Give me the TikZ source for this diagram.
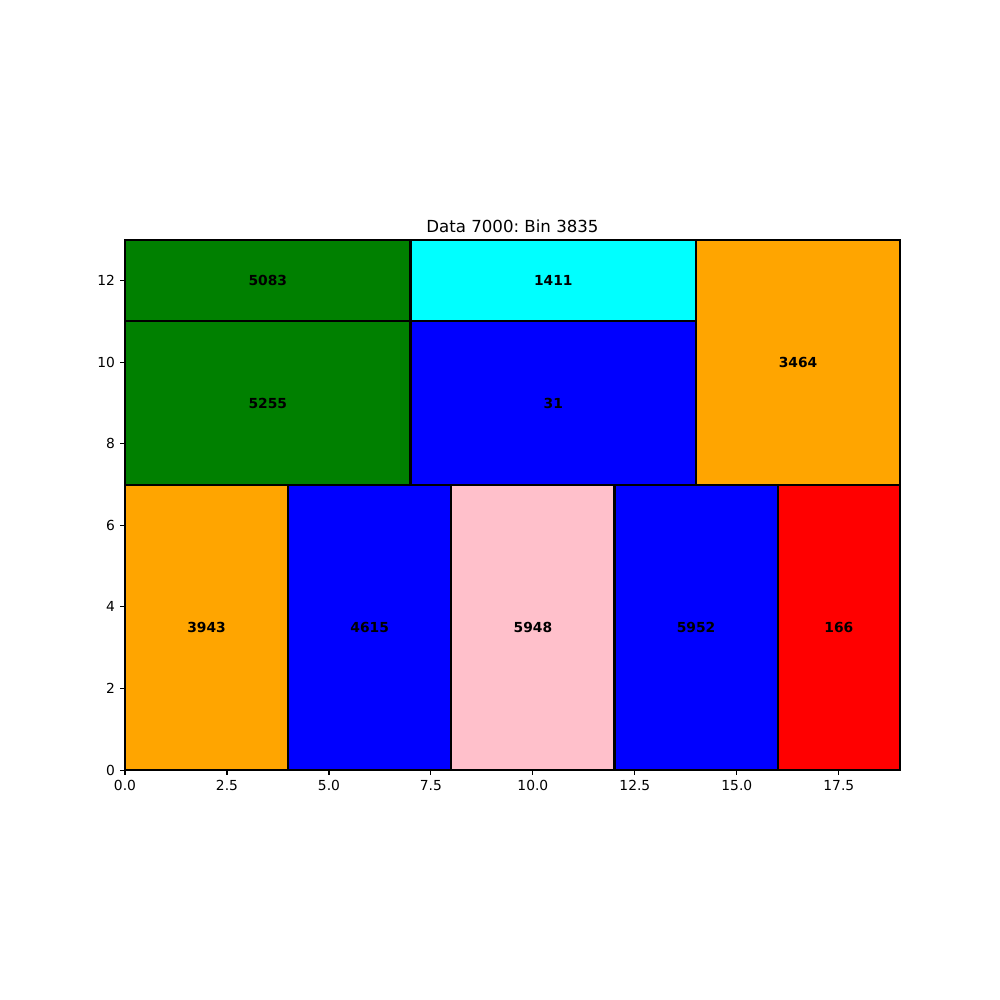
\documentclass[tikz,border=0pt]{standalone}
\usepackage{fontspec}
\setmainfont{DejaVu Sans}
\definecolor{mplorange}{HTML}{FFA500}
\definecolor{mplblue}{HTML}{0000FF}
\definecolor{mplpink}{HTML}{FFC0CB}
\definecolor{mplred}{HTML}{FF0000}
\definecolor{mplgreen}{HTML}{008000}
\definecolor{mplcyan}{HTML}{00FFFF}
\frenchspacing
\begin{document}
\begin{tikzpicture}[
  item/.style={draw=black, line width=1.5pt},
  lbl/.style={font=\fontsize{10}{12}\selectfont\bfseries, inner sep=0pt},
  tick/.style={line width=0.8pt},
  ticklbl/.style={font=\fontsize{10}{12}\selectfont, inner sep=0pt}
]
\useasboundingbox (0,0) rectangle (25.4cm,25.4cm);
\begin{scope}[shift={(3.175cm,5.840cm)}, x=1.03605cm, y=1.03605cm]
  \fill[white] (0,0) rectangle (19,13);
  \draw[item, fill=mplorange] (0,0) rectangle (4,7) node[midway, lbl] (n3943) {3943};
  \draw[item, fill=mplblue] (4,0) rectangle (8,7) node[midway, lbl] (n4615) {4615};
  \draw[item, fill=mplpink] (8,0) rectangle (12,7) node[midway, lbl] (n5948) {5948};
  \draw[item, fill=mplblue] (12,0) rectangle (16,7) node[midway, lbl] (n5952) {5952};
  \draw[item, fill=mplred] (16,0) rectangle (19,7) node[midway, lbl] (n166) {166};
  \draw[item, fill=mplgreen] (0,7) rectangle (7,11) node[midway, lbl] (n5255) {5255};
  \draw[item, fill=mplblue] (7,7) rectangle (14,11) node[midway, lbl] (n31) {31};
  \draw[item, fill=mplorange] (14,7) rectangle (19,13) node[midway, lbl] (n3464) {3464};
  \draw[item, fill=mplgreen] (0,11) rectangle (7,13) node[midway, lbl] (n5083) {5083};
  \draw[item, fill=mplcyan] (7,11) rectangle (14,13) node[midway, lbl] (n1411) {1411};
  \draw[line width=0.8pt] (0,0) rectangle (19,13);
  \foreach \v/\t in {0/0.0,2.5/2.5,5/5.0,7.5/7.5,10/10.0,12.5/12.5,15/15.0,17.5/17.5}{
    \draw[tick] (\v,0) -- ++(0,-3.5pt);
    \node[ticklbl, anchor=north] at ([yshift=-7pt]\v,0) {\t};
  }
  \foreach \v in {0,2,4,6,8,10,12}{
    \draw[tick] (0,\v) -- ++(-3.5pt,0);
    \node[ticklbl, anchor=east] at ([xshift=-7pt]0,\v) {\v};
  }
  \node[font=\fontsize{12}{14}\selectfont, anchor=base, inner sep=0pt] (title) at ([yshift=5pt]9.5,13) {Data 7000: Bin 3835};
\end{scope}
\end{tikzpicture}
\end{document}
